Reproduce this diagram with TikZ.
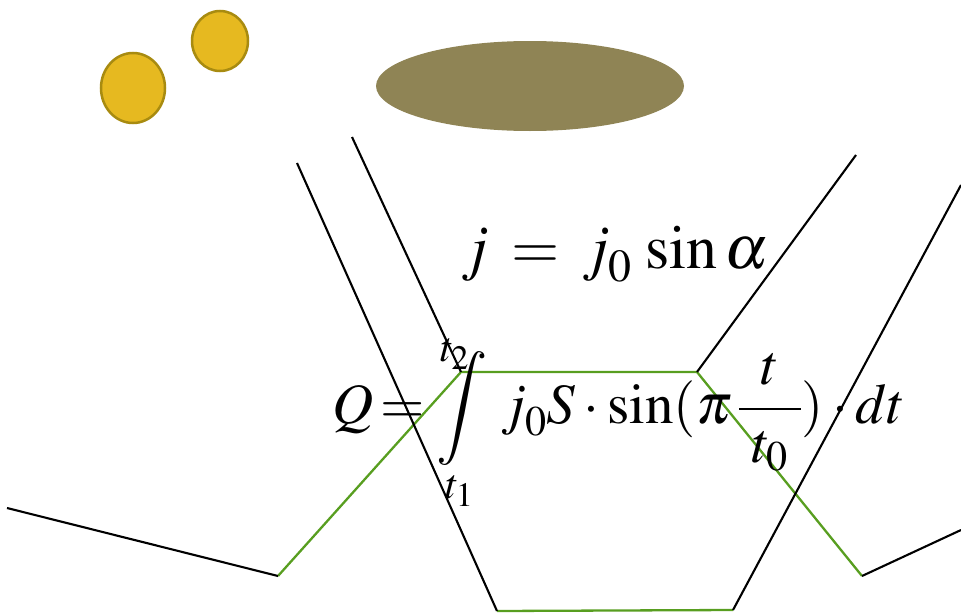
\documentclass[tikz,border=0pt]{standalone}
\usepackage{mathptmx}
\definecolor{coinfill}{RGB}{230,185,32}
\definecolor{coinedge}{RGB}{168,139,16}
\definecolor{disc}{RGB}{143,132,85}
\definecolor{wire}{RGB}{88,158,32}
\tikzset{
  coin/.style={fill=coinfill,draw=coinedge,line width=2.5pt},
  blk/.style={draw=black,line width=2.1pt},
  grn/.style={draw=wire,line width=2.3pt},
  formula/.style={inner sep=0pt}
}
\begin{document}
\begin{tikzpicture}[x=1pt,y=-1pt]
\useasboundingbox (0,0) rectangle (961,613);
% coins and disc
\draw[coin] (133,88) ellipse [x radius=32, y radius=35];
\draw[coin] (220,41) ellipse [x radius=28, y radius=30];
\fill[disc] (530,86) ellipse [x radius=154, y radius=45];
% coordinates
\coordinate (L0) at (7,508);
\coordinate (L1) at (278,576);
\coordinate (G1) at (461,372);
\coordinate (G2) at (697,372);
\coordinate (R1) at (862,576);
\coordinate (R0) at (961,530);
\coordinate (LO) at (297,163);
\coordinate (LI) at (352,137);
\coordinate (RI) at (856,155);
\coordinate (RO) at (961,185);
\coordinate (B1) at (497,611);
\coordinate (B2) at (733,610);
% green wire
\draw[grn] (L1) -- (G1) -- (G2) -- (R1);
\draw[grn] (B1) -- (B2);
% black lines
\draw[blk] (L0) -- (L1);
\draw[blk] (R1) -- (R0);
\draw[blk] (LO) -- (B1);
\draw[blk] (RO) -- (B2);
\draw[blk] (LI) -- (G1);
\draw[blk] (RI) -- (G2);
% formulas
\node[formula,anchor=base,font=\fontsize{62}{74}\selectfont] (f1) at (615,268)
  {$j \:=\: j_{\raisebox{-4pt}{$\scriptstyle 0$}}\,\sin\alpha$};
\node[formula,anchor=base,font=\fontsize{57}{68}\selectfont] (f2) at (619,423)
  {$\displaystyle Q\!=\!\mathop{\rlap{\hspace{10pt}\raisebox{62pt}[0pt][0pt]{$\scriptstyle t_2$}}\int}\limits_{\raisebox{4pt}[0pt][0pt]{$\scriptstyle t_1$}}\, j_{\raisebox{-4pt}{$\scriptstyle 0$}} S\cdot\sin(\pi\,\frac{t}{\;t_0\;})\cdot dt$};
\end{tikzpicture}
\end{document}
